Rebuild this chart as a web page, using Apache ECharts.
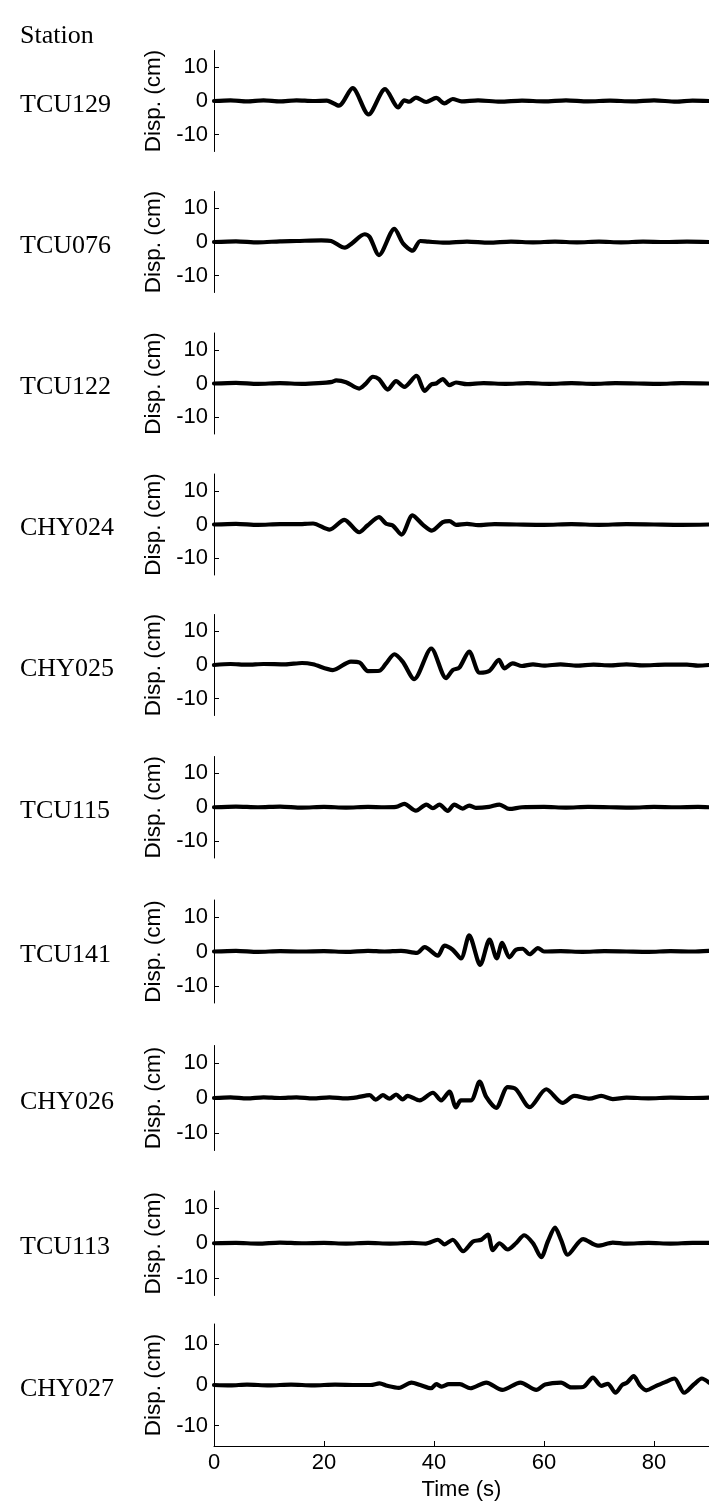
<!DOCTYPE html>
<html>
<head>
<meta charset="utf-8">
<script src="https://cdn.jsdelivr.net/npm/echarts@6/dist/echarts.min.js"></script>
<style>
html,body{margin:0;padding:0;background:#fff;}
#chart{width:709px;height:1507px;}
</style>
</head>
<body>
<div id="chart"></div>
<script>
// ---- data ----
var stations = ['TCU129','TCU076','TCU122','CHY024','CHY025','TCU115','TCU141','CHY026','TCU113','CHY027'];
var yTicks = [-10, 0, 10];
var xTicks = [0, 20, 40, 60, 80];

// [time (s), displacement (cm)]
var tcu129 = [[0,0],[3,0.2],[6,-0.1],[9,0.2],[12,-0.1],[15,0.2],[18,0],[20.5,0.1],[22.7,-1.4],[25.2,3.8],[28.1,-4.0],[31.1,3.5],[33.5,-1.9],[34.6,0.2],[35.5,-0.2],[36.7,1.0],[38.6,-0.3],[40.4,0.9],[41.9,-0.7],[43.4,0.6],[45,-0.1],[48,0.2],[52,-0.2],[56,0.1],[60,-0.1],[64,0.2],[68,-0.1],[72,0.1],[76,-0.1],[80,0.2],[84,-0.2],[87,0.1],[90,0]];
var tcu076 = [[0,0],[4,0.2],[8,-0.1],[12,0.2],[15,0.3],[19.5,0.5],[21.3,0.3],[23.8,-1.7],[25,-0.5],[27.4,2.3],[28.3,1.5],[30,-3.9],[32.8,3.9],[34.4,-0.5],[36.1,-2.6],[37.5,0.3],[39,0.1],[42,-0.2],[46,0.1],[50,-0.2],[54,0.1],[58,-0.1],[62,0.1],[66,-0.1],[70,0.1],[74,-0.1],[78,0.1],[82,0],[86,0.1],[90,0]];
var tcu122 = [[0,0],[4,0.2],[8,-0.1],[12,0.1],[16,-0.1],[19,0.1],[21.5,0.5],[22.2,0.9],[24,0.4],[26.4,-1.5],[27.5,-0.2],[28.9,2.0],[30,1.3],[31.6,-1.8],[33.1,0.7],[34.6,-1.0],[36.8,2.3],[38.3,-2.2],[39.5,-0.3],[40.4,0],[41.6,1.3],[42.8,-0.5],[44,0.3],[46,-0.2],[49,0.1],[53,-0.1],[57,0.1],[61,-0.1],[65,0.1],[69,-0.1],[73,0.1],[77,0],[81,-0.1],[85,0.1],[90,0]];
var chy024 = [[0,0],[4,0.2],[8,-0.1],[12,0.1],[15,0.1],[18,0.3],[21,-1.5],[23.7,1.4],[26.4,-2.3],[27.9,-0.3],[30,2.2],[31.3,0.2],[32.5,-0.3],[34.1,-3.0],[36.1,2.7],[38,-0.1],[39.6,-1.8],[41.6,0.7],[42.8,1.0],[44,-0.1],[46,0.2],[48,-0.2],[51,0.1],[55,0],[60,-0.1],[65,0.1],[70,-0.1],[75,0.1],[80,0],[85,-0.1],[90,0]];
var chy025 = [[0,0],[3,0.3],[6,0.1],[9,0.3],[13,0.2],[16,0.6],[18,0.2],[21.6,-1.5],[24.9,1.0],[26.5,0.7],[28,-1.8],[30.1,-1.7],[31.3,0.5],[32.8,3.2],[34.3,1.0],[36.4,-4.2],[39.5,4.9],[42.2,-3.9],[43.4,-1.5],[44.6,-0.8],[46.4,4.0],[48.3,-2.3],[50.1,-1.7],[51.8,1.5],[52.8,-1.0],[54.3,0.5],[56,-0.3],[58,0.2],[60,-0.2],[63,0.2],[66,-0.2],[69,0.1],[72,-0.1],[75,0.2],[78,-0.1],[82,0.1],[86,0.1],[88,-0.2],[90,0]];
var tcu115 = [[0,0],[4,0.2],[8,0],[12,0.2],[16,-0.1],[20,0.1],[24,-0.1],[28,0.1],[31,0],[33.1,0.1],[34.6,1.0],[36.7,-1.0],[38.6,0.8],[39.8,-0.3],[41,0.8],[42.5,-1.1],[43.7,0.8],[45.2,-0.4],[46.4,0.5],[47.6,-0.2],[50,0.1],[51.9,0.8],[53.7,-0.5],[56,0],[60,0.1],[64,-0.1],[68,0.1],[72,0],[76,-0.1],[80,0.1],[84,0],[88,0.1],[90,0]];
var tcu141 = [[0,0],[4,0.2],[8,-0.1],[12,0.1],[16,0],[20,0.1],[24,-0.1],[28,0.2],[31,0],[34,0.2],[36.9,-0.4],[38.3,1.3],[40.7,-1.2],[41.9,1.7],[43.4,0.5],[44.9,-2.0],[46.4,4.7],[48.4,-3.9],[50.1,3.5],[51.4,-2.0],[52.4,2.5],[53.7,-1.7],[54.9,0.5],[56.1,0.8],[57.4,-0.8],[58.9,1.0],[60,0],[63,0.1],[67,-0.1],[71,0.1],[75,0],[79,-0.1],[83,0.1],[87,0],[90,0.2]];
var chy026 = [[0,0],[3,0.2],[6,-0.1],[9,0.2],[12,0],[15,0.2],[18,-0.1],[21,0.2],[24,-0.1],[26,0.2],[28.3,0.8],[29.4,-0.5],[30.7,0.8],[31.9,-0.2],[33.1,1.0],[34.3,-0.4],[35.2,0.6],[37.4,-0.7],[39.8,1.5],[41.3,-0.7],[42.8,1.8],[44,-2.7],[44.9,-0.7],[46.7,-0.7],[48.3,4.7],[49.5,0.3],[51.3,-2.8],[53.4,3.1],[54.9,2.5],[57.4,-2.6],[60.4,2.5],[63.4,-1.4],[65.5,0.6],[68.3,-0.2],[70.4,0.6],[72.5,-0.3],[75,0.1],[79,-0.1],[83,0.1],[87,0],[90,0.1]];
var tcu113 = [[0,0],[4,0.1],[8,-0.1],[12,0.2],[16,0],[20,0.1],[24,-0.1],[28,0.1],[32,-0.1],[36,0.1],[38.5,-0.1],[40.7,1.0],[41.9,-0.3],[43.4,1.0],[45.3,-2.3],[47.1,0.5],[48.6,1.0],[49.8,2.5],[50.7,-2.0],[51.9,0],[53.4,-1.8],[54.9,0],[56.4,2.3],[58,0],[59.5,-4.0],[60.7,0.5],[62,4.5],[63.1,1.0],[64.3,-3.3],[67.1,1.2],[69.8,-0.7],[72.5,0.2],[75,-0.1],[79,0.1],[83,-0.1],[87,0.1],[90,0.1]];
var chy027 = [[0,0],[3,-0.1],[6,0.1],[10,-0.1],[14,0.1],[18,-0.1],[22,0.1],[26,0],[28.5,0],[30.1,0.4],[31.5,-0.2],[33.6,-0.7],[35.9,0.6],[37.5,0],[39.5,-0.8],[40.4,0.2],[41.4,-0.4],[42.7,0.2],[44.7,0.2],[46.6,-0.8],[49.5,0.6],[52.4,-1.2],[55.7,0.6],[58.6,-1.2],[60.2,0.1],[63.1,0.6],[64.9,-0.6],[67.1,-0.5],[68.9,1.8],[70.4,-0.2],[71.6,0.3],[73,-1.9],[74.2,0],[75.1,0.6],[76.3,2.2],[77.4,0],[78.6,-1.3],[80.4,-0.2],[82.2,0.8],[83.7,1.6],[85.5,-1.9],[87.3,0.2],[88.7,1.6],[90,0.6]];
var records = [tcu129, tcu076, tcu122, chy024, chy025, tcu115, tcu141, chy026, tcu113, chy027];

// ---- layout (pixels) ----
var panelTop    = [50.5, 191.5, 333, 474, 614.5, 756.5, 900, 1045.5, 1191, 1324];
var panelHeight = [101, 101, 101, 101, 101, 101.5, 103, 105, 104.5, 122];
var plotLeft = 214, plotWidth = 495;

var sans = '"Liberation Sans", Arial, sans-serif';
var serif = '"Liberation Serif", "Times New Roman", serif';

var grids = [], xAxes = [], yAxes = [], series = [];
for (var i = 0; i < stations.length; i++) {
  var last = (i === stations.length - 1);
  grids.push({left: plotLeft, width: plotWidth, top: panelTop[i], height: panelHeight[i], containLabel: false});
  xAxes.push({
    type: 'value', gridIndex: i, min: 0, max: 90,
    show: last,
    axisLine: {show: last, onZero: false, lineStyle: {color: '#000', width: 1}},
    axisTick: {show: last, inside: true, length: 5, customValues: xTicks, lineStyle: {color: '#000'}},
    axisLabel: {show: last, customValues: xTicks, color: '#000', fontSize: 22, fontFamily: sans, margin: 6},
    splitLine: {show: false},
    name: last ? 'Time (s)' : '',
    nameLocation: 'middle', nameGap: 33,
    nameTextStyle: {color: '#000', fontSize: 22, fontFamily: sans}
  });
  yAxes.push({
    type: 'value', gridIndex: i, min: -15, max: 15,
    axisLine: {show: true, onZero: false, lineStyle: {color: '#000', width: 1}},
    axisTick: {show: true, inside: true, length: 5, customValues: yTicks, lineStyle: {color: '#000'}},
    axisLabel: {customValues: yTicks, color: '#000', fontSize: 22, fontFamily: sans, margin: 6},
    splitLine: {show: false},
    name: 'Disp. (cm)', nameLocation: 'middle', nameRotate: 90, nameGap: 48,
    nameTextStyle: {color: '#000', fontSize: 22.5, fontFamily: sans}
  });
  series.push({
    type: 'line', xAxisIndex: i, yAxisIndex: i, data: records[i],
    showSymbol: false, smooth: 0.28, clip: true,
    lineStyle: {color: '#000', width: 4.2, cap: 'round', join: 'round'}
  });
}

var chart = echarts.init(document.getElementById('chart'), null, {renderer: 'canvas'});
chart.setOption({
  animation: false,
  backgroundColor: '#fff',
  grid: grids, xAxis: xAxes, yAxis: yAxes, series: series
});

// station labels positioned at each panel's zero line via the axis scale
var texts = [{type: 'text', left: 20, top: 23, style: {text: 'Station', fill: '#000', font: '26px ' + serif}}];
for (var j = 0; j < stations.length; j++) {
  var py = chart.convertToPixel({yAxisIndex: j}, 0);
  texts.push({type: 'text', x: 20, y: py + 4, style: {text: stations[j], fill: '#000', font: '26px ' + serif, verticalAlign: 'middle'}});
}
chart.setOption({graphic: texts});
</script>
</body>
</html>
